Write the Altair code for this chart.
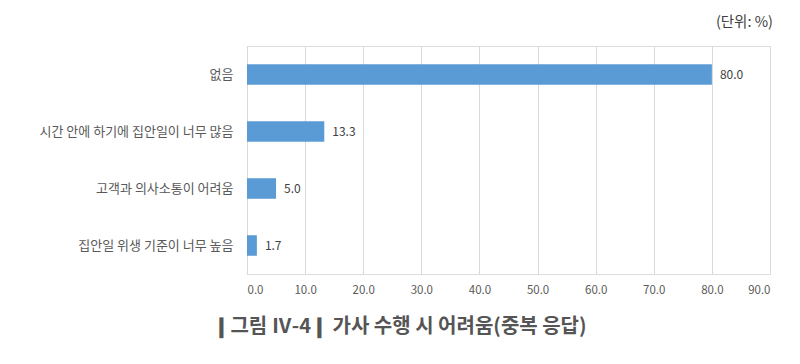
import altair as alt
import pandas as pd

categories = ["없음", "시간 안에 하기에 집안일이 너무 많음", "고객과 의사소통이 어려움", "집안일 위생 기준이 너무 높음"]
values = [80.0, 13.3, 5.0, 1.7]
x_ticks = [0, 10, 20, 30, 40, 50, 60, 70, 80, 90]
unit_text = "(단위:  %)"
caption_text = "❙그림 Ⅳ-4❙  가사 수행 시 어려움(중복 응답)"

df = pd.DataFrame({"category": categories, "value": values})

FONT = "Noto Sans CJK KR"

x = alt.X("value:Q", scale=alt.Scale(domain=[0, 90], nice=False),
          axis=alt.Axis(values=x_ticks, format=".1f", title=None, grid=True,
                        gridColor="#d9d9d9", domain=False, ticks=False,
                        labelPadding=10, labelFontSize=11.5, labelColor="#595959",
                        labelFont=FONT))
y = alt.Y("category:N", sort=categories, scale=alt.Scale(paddingInner=0.64, paddingOuter=0.32),
          axis=alt.Axis(title=None, domain=True, domainColor="#d9d9d9", ticks=False,
                        labelPadding=14, labelFontSize=13, labelColor="#595959",
                        labelFont=FONT, labelLimit=400))

bars = alt.Chart(df).mark_bar(color="#5B9BD5").encode(x=x, y=y)
labels = alt.Chart(df).mark_text(align="left", baseline="middle", dx=8, fontSize=12,
                                 color="#404040", font=FONT).encode(
    x="value:Q", y=alt.Y("category:N", sort=categories), text=alt.Text("value:Q", format=".1f"))

unit = alt.Chart(pd.DataFrame({"t": [unit_text]})).mark_text(
    align="right", baseline="middle", fontSize=14.5, color="#404040", font=FONT).encode(
    x=alt.value(526), y=alt.value(-23), text="t:N")
caption = alt.Chart(pd.DataFrame({"t": [caption_text]})).mark_text(
    align="center", baseline="middle", fontSize=20, fontWeight="bold", color="#555555", font=FONT).encode(
    x=alt.value(153), y=alt.value(281), text="t:N")

chart = alt.layer(bars, labels, unit, caption).properties(
    width=523, height=228,
    autosize=alt.AutoSizeParams(type="none"),
    padding={"left": 239, "top": 38, "right": 22, "bottom": 75},
).configure_view(stroke=None).configure(background="white")

chart.save("out.html", embed_options={"renderer": "svg", "actions": False})
